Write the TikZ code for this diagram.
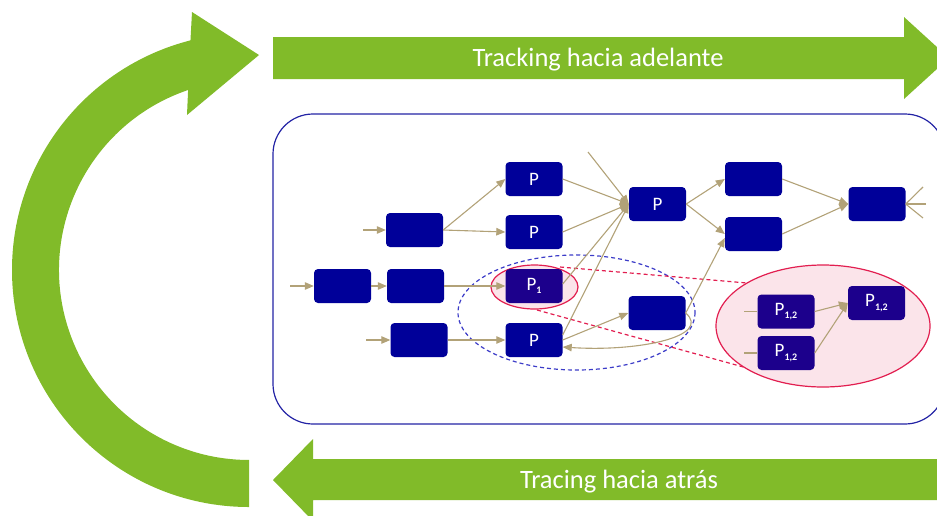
\documentclass[tikz,border=0pt]{standalone}
\usepackage{fontspec}
\setmainfont{Carlito}
\usetikzlibrary{arrows.meta,calc}
\definecolor{leaf}{RGB}{129,187,41}
\definecolor{navybox}{RGB}{0,0,153}
\definecolor{deepbox}{RGB}{28,0,140}
\definecolor{linktan}{RGB}{178,162,120}
\definecolor{framecol}{RGB}{35,35,165}
\definecolor{rosefill}{RGB}{251,228,234}
\definecolor{roseline}{RGB}{226,30,80}
\definecolor{dashblue}{RGB}{60,60,200}
\newcommand{\psub}[1]{P\raisebox{-3.5pt}{\fontsize{10}{10}\selectfont\bfseries #1}}
\begin{document}
\begin{tikzpicture}[x=1pt,y=-1pt,
  blk/.style={fill=navybox, rounded corners=4pt, minimum width=57pt, minimum height=34pt,
    inner sep=0pt, text=white, font=\fontsize{19}{19}\selectfont},
  dblk/.style={blk, fill=deepbox},
  lk/.style={draw=linktan, line width=1.1pt, -{Triangle[length=9pt,width=7.5pt]}},
  ln/.style={draw=linktan, line width=1.1pt},
  banner/.style={text=white, font=\fontsize{26.5}{26.5}\selectfont},
  reddash/.style={draw=roseline, line width=1.2pt, dash pattern=on 4pt off 3pt}]
\useasboundingbox (0,0) rectangle (937,515);
\clip (0,0) rectangle (937,515);

% circular return arrow
\fill[leaf] (249,507) arc[start angle=90, end angle=255.7, radius=237]
  -- (192,12) -- (259,55) -- (187,115) -- (188.1,90)
  arc[start angle=251.3, end angle=90, radius=190] -- cycle;

% forward and backward banners
\fill[leaf] (273,37) -- (904,37) -- (904,17) -- (949,58) -- (904,99) -- (904,79) -- (273,79) -- cycle;
\fill[leaf] (950,459) -- (313,459) -- (313,439) -- (273,480) -- (313,521) -- (313,500) -- (950,500) -- cycle;
\node[banner] (fwd) at (598,59.5) {Tracking hacia adelante};
\node[banner] (bwd) at (619,482) {Tracing hacia atrás};

% process frame
\draw[framecol, line width=1.2pt, rounded corners=40pt] (273,114) rectangle (945,424);

% highlighted regions
\draw[dashblue, line width=1.2pt, dash pattern=on 4pt off 3pt] (576.5,312.5) ellipse[x radius=118.5, y radius=57.5];
\draw[reddash] (560,267) -- (747,283);
\draw[reddash] (537,310) -- (747,368);
\draw[roseline, fill=rosefill, line width=1.2pt] (823,326) ellipse[x radius=107, y radius=61];
\draw[roseline, fill=rosefill, line width=1.2pt] (534.5,287) ellipse[x radius=43.5, y radius=22];

% process nodes
\node[blk] (A) at (342.5,286) {};
\node[blk] (B) at (414.5,230) {};
\node[blk] (C) at (415.5,286) {};
\node[blk] (D) at (419,340) {};
\node[blk] (Pt) at (534,179) {P};
\node[blk] (Ps) at (534,232) {P};
\node[dblk] (P1) at (534,286) {\psub{1}};
\node[blk] (Pb) at (534,340) {P};
\node[blk] (hub) at (657.5,204) {P};
\node[blk] (E) at (753.5,179) {};
\node[blk] (F) at (753.5,234) {};
\node[blk] (G) at (877,204) {};
\node[blk] (H) at (657,313) {};
\node[dblk] (Q1) at (786,311.5) {\psub{1,2}};
\node[dblk] (Q2) at (786,353) {\psub{1,2}};
\node[dblk] (Q3) at (876.5,303) {\psub{1,2}};

% free ends
\coordinate (inA) at (290,286);
\coordinate (inB) at (363,230);
\coordinate (inD) at (366,340);
\coordinate (top) at (588,152);
\coordinate (g1) at (923,187);
\coordinate (g2) at (926,204);
\coordinate (g3) at (923,218);
\coordinate (q1in) at (744,311.5);
\coordinate (q2in) at (744,353);

% links
\draw[lk] (inA) -- (A.west);
\draw[lk] (A.east) -- (C.west);
\draw[lk] (inB) -- (B.west);
\draw[lk] (inD) -- (D.west);
\draw[lk] (B.east) -- (Pt.west);
\draw[lk] (B.east) -- (Ps.west);
\draw[lk] (C.east) -- (P1.west);
\draw[lk] (D.east) -- (Pb.west);
\draw[lk] (Pt.east) -- (hub.west);
\draw[lk] (Ps.east) -- (hub.west);
\draw[lk] ($(P1.east)+(0,-2)$) -- (hub.west);
\draw[lk] ($(Pb.east)+(0,-5)$) -- (hub.west);
\draw[lk] (top) -- (hub.west);
\draw[lk] (Pb.east) -- (H.west);
\draw[lk] (H.east) -- ($(F.west)+(0,4)$);
\draw[lk] (H.east) .. controls (712,336) and (640,352) .. ($(Pb.east)+(0,7)$);
\draw[lk] (hub.east) -- (E.west);
\draw[lk] (hub.east) -- (F.west);
\draw[lk] (E.east) -- (G.west);
\draw[lk] (F.east) -- (G.west);
\draw[ln] (g1) -- (G.east);
\draw[ln] (g2) -- (G.east);
\draw[ln] (g3) -- (G.east);
\draw[ln] (q1in) -- (Q1.west);
\draw[ln] (q2in) -- (Q2.west);
\draw[lk] (Q1.east) -- (Q3.west);
\draw[lk] (Q2.east) -- (Q3.west);
\end{tikzpicture}
\end{document}
